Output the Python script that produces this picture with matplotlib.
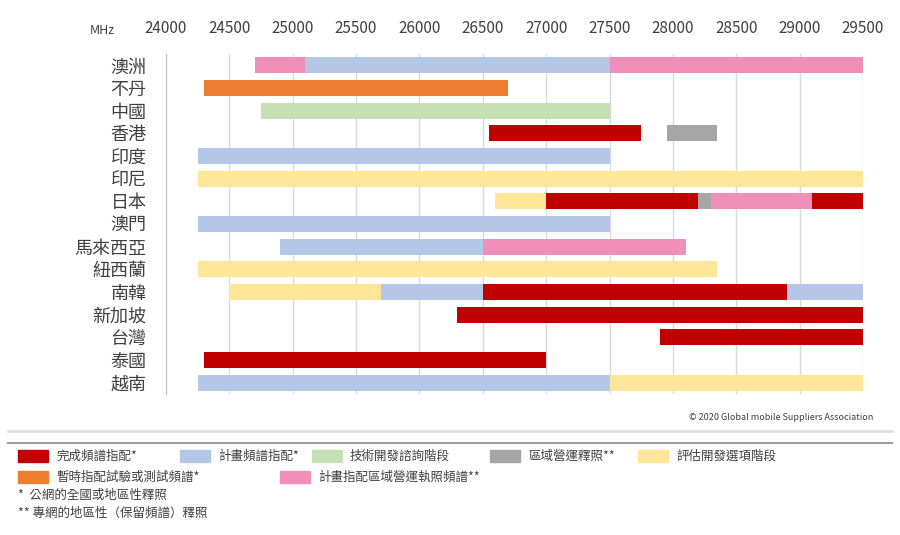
import matplotlib.pyplot as plt
import matplotlib.patches as mpatches

plt.rcParams['font.family'] = ['Noto Sans CJK TC', 'DejaVu Sans']

countries = ["澳洲", "不丹", "中國", "香港", "印度", "印尼", "日本", "澳門",
             "馬來西亞", "紐西蘭", "南韓", "新加坡", "台灣", "泰國", "越南"]

# (start MHz, end MHz, category) per country
segments = [
    [(24700, 25100, "pink"), (25100, 27500, "blue"), (27500, 29500, "pink")],
    [(24300, 26700, "orange")],
    [(24750, 27500, "green")],
    [(26550, 27750, "red"), (27950, 28350, "gray")],
    [(24250, 27500, "blue")],
    [(24250, 29500, "yellow")],
    [(26600, 27000, "yellow"), (27000, 28200, "red"), (28200, 28300, "gray"),
     (28300, 29100, "pink"), (29100, 29500, "red")],
    [(24250, 27500, "blue")],
    [(24900, 26500, "blue"), (26500, 28100, "pink")],
    [(24250, 28350, "yellow")],
    [(24500, 25700, "yellow"), (25700, 26500, "blue"), (26500, 28900, "red"),
     (28900, 29500, "blue")],
    [(26300, 29500, "red")],
    [(27900, 29500, "red")],
    [(24300, 27000, "red")],
    [(24250, 27500, "blue"), (27500, 29500, "yellow")],
]

colors = {"red": "#c00000", "blue": "#b4c7e7", "green": "#c5e0b4",
          "gray": "#a6a6a6", "yellow": "#ffe699", "orange": "#ed7d31",
          "pink": "#f08fb7"}

ticks = list(range(24000, 30000, 500))

legend_row1 = [("red", "完成頻譜指配*"), ("blue", "計畫頻譜指配*"), ("green", "技術開發諮詢階段"),
               ("gray", "區域營運釋照**"), ("yellow", "評估開發選項階段")]
legend_row2 = [("orange", "暫時指配試驗或測試頻譜*"), ("pink", "計畫指配區域營運執照頻譜**")]
notes = ["*  公網的全國或地區性釋照", "** 專網的地區性（保留頻譜）釋照"]

W, H = 900, 535
fig = plt.figure(figsize=(W / 100, H / 100), dpi=100)
ax = fig.add_axes([166 / W, 1 - 394 / H, (863 - 166) / W, (394 - 54) / H])

for i, segs in enumerate(segments):
    for s, e, c in segs:
        ax.barh(i, e - s, left=s, height=0.7, color=colors[c], zorder=3)

ax.set_xlim(24000, 29500)
ax.set_ylim(len(countries) - 0.5, -0.5)
ax.set_yticks(range(len(countries)))
ax.set_yticklabels(countries, fontsize=13, color="#404040")
ax.set_xticks(ticks)
ax.set_xticklabels([str(t) for t in ticks], fontsize=11, color="#404040")
ax.xaxis.tick_top()
ax.tick_params(axis="x", length=0, pad=12)
ax.tick_params(axis="y", length=0, pad=14)
ax.grid(axis="x", color="#d9d9d9", lw=1, zorder=0)
for sp in ["top", "right", "bottom"]:
    ax.spines[sp].set_visible(False)
ax.spines["left"].set_color("#bfbfbf")
fig.text(90 / W, 1 - 31 / H, "MHz", fontsize=9, color="#404040", va="center")

fig.text(873 / W, 1 - 418 / H, "© 2020 Global mobile Suppliers Association",
         fontsize=6.5, ha="right", va="center", color="#404040")
fig.add_artist(plt.Line2D([8 / W, 892 / W], [1 - 431 / H] * 2, color="#e0e0e0", lw=2))
fig.add_artist(plt.Line2D([8 / W, 892 / W], [1 - 443 / H] * 2, color="#a0a0a0", lw=1.5))

def legend_item(x, y, c, label, w=32):
    fig.add_artist(mpatches.Rectangle((x / W, 1 - (y + 6) / H), w / W, 12 / H,
                                      color=colors[c], transform=fig.transFigure))
    fig.text((x + w + 8) / W, 1 - y / H, label, fontsize=9, va="center", color="#404040")

for (c, lab), x in zip(legend_row1, [18, 180, 312, 490, 638]):
    legend_item(x, 456, c, lab, 30)
for (c, lab), x in zip(legend_row2, [18, 280]):
    legend_item(x, 477, c, lab, 30)
for n, y in zip(notes, [495, 513]):
    fig.text(18 / W, 1 - y / H, n, fontsize=9, va="center", color="#404040")

fig.savefig("out.png", dpi=100)
